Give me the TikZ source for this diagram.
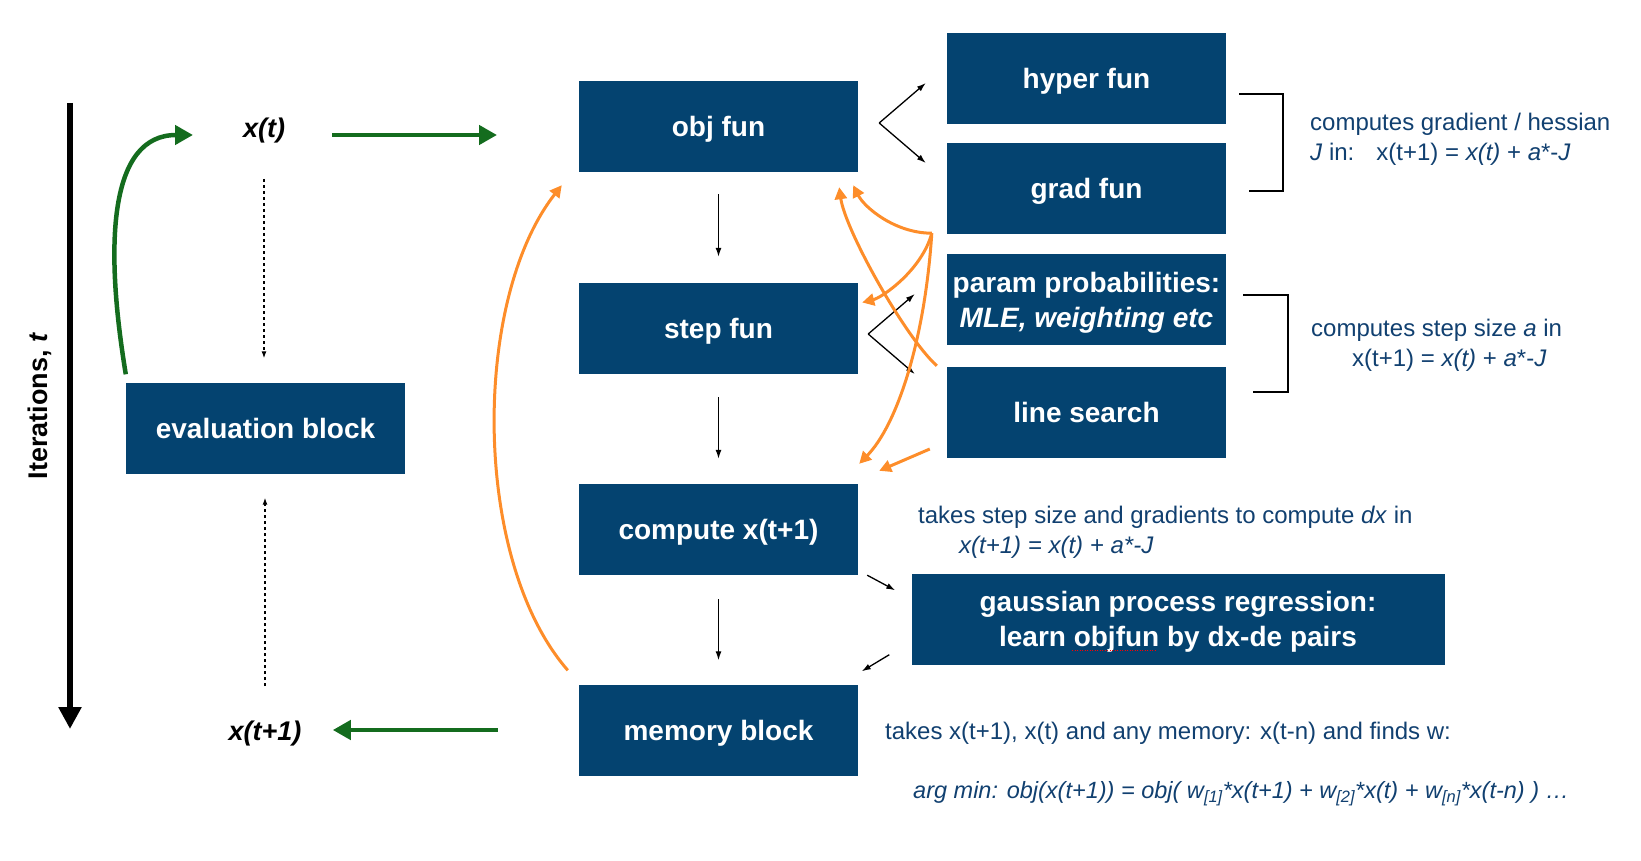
\documentclass[tikz,border=0pt]{standalone}
\usepackage{fontspec}
\setmainfont{Liberation Sans}
\usepackage{tikz}
\usetikzlibrary{arrows.meta,calc,positioning}
\definecolor{BoxBlue}{RGB}{4,67,112}
\definecolor{NoteBlue}{RGB}{17,64,112}
\definecolor{LoopGreen}{RGB}{20,108,30}
\definecolor{FeedOrange}{RGB}{253,141,42}

\begin{document}
\begin{tikzpicture}[x=1pt,y=-1pt,>=Latex,
    blockbox/.style={fill=BoxBlue,text=white,font=\fontsize{28}{35}\selectfont\bfseries,
      minimum width=279pt,minimum height=91pt,inner sep=0pt,align=center,text height=24pt,text depth=4pt},
    twoline/.style={text height=59pt},
    statetext/.style={inner sep=0pt,font=\fontsize{27}{32}\selectfont\bfseries\itshape},
    notetext/.style={anchor=west,inner sep=0pt,align=left,text=NoteBlue,font=\fontsize{24}{30}\selectfont},
    greenflow/.style={draw=LoopGreen,line width=4.5pt,-{Triangle[length=18pt,width=19pt]}},
    orangefeed/.style={draw=FeedOrange,line width=3pt,-{Triangle[length=12pt,width=12pt]}},
    thinarrow/.style={line width=1.3pt,-{Latex[length=9pt,width=6pt]}},
    dotarrow/.style={line width=1.3pt,dash pattern=on 3pt off 3pt,-{Latex[length=7pt,width=5pt]}},
    bracket/.style={line width=1.7pt}]
  \useasboundingbox (0,0) rectangle (1641,861);

  \node[blockbox] (eval) at (265.5,428) {evaluation block};
  \node[blockbox] (obj) at (718.5,126.5) {obj fun};
  \node[blockbox] (step) at (718.5,328.5) {step fun};
  \node[blockbox] (comp) at (718.5,529.5) {compute x(t+1)};
  \node[blockbox] (mem) at (718.5,730) {memory block};
  \node[blockbox] (hyper) at (1086.5,79) {hyper fun};
  \node[blockbox] (grad) at (1086.5,189) {grad fun};
  \node[blockbox,twoline] (param) at (1086.5,299.5) {param probabilities:\\\itshape MLE, weighting etc};
  \node[blockbox] (search) at (1086.5,412.5) {line search};
  \node[blockbox,twoline,minimum width=533pt] (gauss) at (1178,619) {gaussian process regression:\\learn objfun by dx-de pairs};

  \node[statetext] (xt) at (264,131) {x(t)};
  \node[statetext] (xtt) at (265,734) {x(t+1)};
  \node[rotate=90,font=\fontsize{27}{32}\selectfont\bfseries] (iter) at (40,406) {Iterations, \textit{t}};

  \node[notetext] (gradnote) at (1310,139.5) {computes gradient / hessian\\\textit{J} in:\hspace{22pt}x(t+1) = \textit{x(t)} + \textit{a}*-\textit{J}};
  \node[notetext] (stepnote) at (1311,345.5) {computes step size \textit{a} in\\\hspace*{41pt}x(t+1) = \textit{x(t)} + \textit{a}*-\textit{J}};
  \node[notetext] (compnote) at (918,532.5) {takes step size and gradients to compute \textit{dx} in\\\hspace*{41pt}\textit{x(t+1) = x(t) + a*-J}};
  \node[notetext] (memnote) at (885,733) {takes x(t+1), x(t) and any memory: x(t-n) and finds w:};
  \node[notetext,font=\fontsize{23.5}{30}\selectfont] (argnote) at (913,794) {\itshape arg min: obj(x(t+1)) = obj( w\textsubscript{[1]}*x(t+1) + w\textsubscript{[2]}*x(t) + w\textsubscript{[n]}*x(t-n) ) …};

  \coordinate (ttop) at (70,103);
  \coordinate (tend) at (70,729);
  \draw[line width=6pt,-{Triangle[length=22pt,width=22pt]}] (ttop) -- (tend);

  \draw[greenflow] (xt) ++(68,4) -- ++(165,0);
  \draw[greenflow] (mem.west) ++(-81,0) -- ++(-165,0);
  \draw[greenflow] ([yshift=8pt]eval.north west) .. controls +(-22,-133) and +(-83,0) .. ([xshift=-71pt,yshift=-4pt]xt.center);
  \draw[dotarrow,shorten <=48pt,shorten >=24pt] (xt.center) -- (xt.center |- eval.north);
  \draw[dotarrow,shorten <=48pt,shorten >=24pt] (xtt.center) -- (xtt.center |- eval.south);

  \draw[thinarrow,shorten <=22pt,shorten >=26pt] (obj) -- (step);
  \draw[thinarrow,shorten <=23pt,shorten >=25pt] (step) -- (comp);
  \draw[thinarrow,shorten <=24pt,shorten >=24pt] (comp) -- (mem);

  \coordinate (objfork) at ([xshift=21pt,yshift=3.5pt]obj.east);
  \draw[thinarrow] (objfork) -- ([xshift=-21pt,yshift=-4pt]hyper.west);
  \draw[thinarrow] (objfork) -- ([xshift=-21pt,yshift=26pt]grad.west);
  \coordinate (stepfork) at ([xshift=10pt,yshift=-5.5pt]step.east);
  \draw[thinarrow] (stepfork) -- ([xshift=-32pt,yshift=5.5pt]param.west);
  \draw[thinarrow] (stepfork) -- ([xshift=-32pt,yshift=38.5pt]search.west);
  \draw[thinarrow] ([xshift=9pt]comp.south east) -- ([xshift=-16pt,yshift=-17pt]gauss.north west);
  \draw[thinarrow] ([xshift=-22pt,yshift=10pt]gauss.south west) -- ([xshift=3.5pt,yshift=13pt]mem.north east);

  \coordinate (gradsrc) at ([xshift=-15pt,yshift=1.5pt]grad.south west);
  \draw[orangefeed] (gradsrc) .. controls +(-37,0) and +(11,22) .. ([xshift=-5pt,yshift=-13pt]obj.south east);
  \draw[orangefeed] (gradsrc) .. controls +(-10,37) and +(20,-5) .. ([xshift=4pt,yshift=26pt]step.east);
  \draw[orangefeed] (gradsrc) .. controls +(-7,107) and +(38,-39) .. ([xshift=1pt,yshift=20pt]comp.north east);
  \draw[orangefeed] ([xshift=-10pt,yshift=1pt]search.north west) .. controls +(-32,-29) and +(6,43) .. ([xshift=-19pt,yshift=-15pt]obj.south east);
  \draw[orangefeed] ([xshift=-17pt,yshift=-36.5pt]search.west) -- ([xshift=21pt,yshift=13pt]comp.north east);
  \draw[orangefeed] ([xshift=-11pt,yshift=14pt]mem.north west) .. controls +(-96,-110) and +(-90,115) .. ([xshift=-17pt,yshift=-13pt]obj.south west);

  \draw[bracket] ([xshift=13pt,yshift=-15pt]hyper.east) -- ++(44,0) |- ([xshift=23pt,yshift=-2pt]grad.east);
  \draw[bracket] ([xshift=17pt,yshift=4.5pt]param.east) -- ++(45,0) |- ([xshift=27pt,yshift=20.5pt]search.east);

  \draw[red,line width=1pt,dash pattern=on 1pt off 1.5pt] ([xshift=-106pt,yshift=-31.5pt]gauss.center) -- ([xshift=-22pt,yshift=-31.5pt]gauss.center);
\end{tikzpicture}
\end{document}
